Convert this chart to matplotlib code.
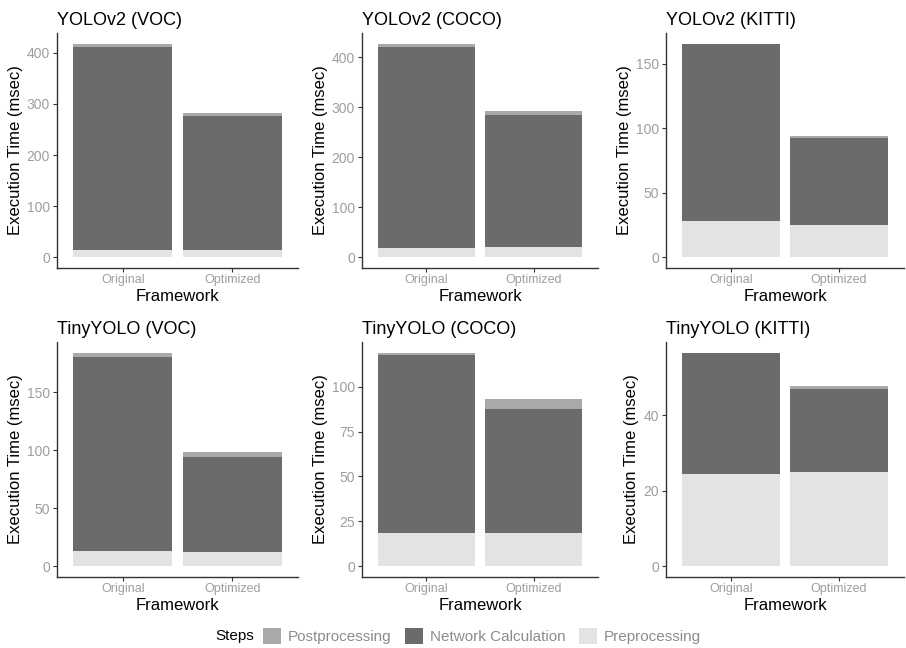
import matplotlib.pyplot as plt
from matplotlib.patches import Patch

plt.rcParams['font.family'] = ['Liberation Sans', 'DejaVu Sans']

# data
frameworks = ["Original", "Optimized"]
titles = ["YOLOv2 (VOC)", "YOLOv2 (COCO)", "YOLOv2 (KITTI)",
          "TinyYOLO (VOC)", "TinyYOLO (COCO)", "TinyYOLO (KITTI)"]
preproc = [[15, 15], [19, 21], [28.4, 25], [13.2, 12], [18.3, 18.3], [24.5, 25]]
network = [[397, 260.7], [402, 263], [136.8, 67.5], [166.9, 82.1], [99.5, 69.5], [31.9, 21.9]]
postproc = [[6, 6], [6, 8], [0.5, 1.3], [4, 4], [1.1, 5.5], [0.2, 1.0]]
yticks = [[0, 100, 200, 300, 400], [0, 100, 200, 300, 400], [0, 50, 100, 150],
          [0, 50, 100, 150], [0, 25, 50, 75, 100], [0, 20, 40]]

c_post = "#A9A9A9"
c_net = "#6B6B6B"
c_pre = "#E3E3E3"
tick_col = "#9E9E9E"

W, H = 906, 648
fig = plt.figure(figsize=(W / 100, H / 100), dpi=100)

cols = [(57, 298), (362, 598), (666, 904)]
rows = [(33, 268), (342, 577)]

for i in range(6):
    r, c = divmod(i, 3)
    l, rr = cols[c]
    t, b = rows[r]
    ax = fig.add_axes([l / W, 1 - b / H, (rr - l) / W, (b - t) / H])
    x = [1, 2]
    pre = preproc[i]
    net = network[i]
    post = postproc[i]
    ax.bar(x, pre, width=0.9, color=c_pre)
    ax.bar(x, net, width=0.9, bottom=pre, color=c_net)
    ax.bar(x, post, width=0.9, bottom=[p + n for p, n in zip(pre, net)], color=c_post)
    top = max(p + n + q for p, n, q in zip(pre, net, post))
    ax.set_ylim(-0.05 * top, top * 1.05)
    ax.set_xlim(0.4, 2.6)
    ax.set_xticks(x)
    ax.set_xticklabels(frameworks, fontsize=9, color=tick_col)
    ax.set_yticks(yticks[i])
    ax.tick_params(axis='y', labelsize=10, labelcolor=tick_col, length=3, color="#333333", pad=2)
    ax.tick_params(axis='x', length=3, color="#333333", pad=1.5)
    for s in ["top", "right"]:
        ax.spines[s].set_visible(False)
    for s in ["left", "bottom"]:
        ax.spines[s].set_color("#333333")
        ax.spines[s].set_linewidth(1.0)
    ax.set_xlabel("Framework", fontsize=12, labelpad=2)
    ax.set_ylabel("Execution Time (msec)", fontsize=12, labelpad=3)
    ax.set_title(titles[i], fontsize=13, loc='left', pad=6)

handles = [Patch(facecolor=c_post), Patch(facecolor=c_net), Patch(facecolor=c_pre)]
labels = ["Postprocessing", "Network Calculation", "Preprocessing"]
leg = fig.legend(handles, labels, ncol=3, loc='center', bbox_to_anchor=(482 / W, 1 - 636 / H),
                 frameon=False, fontsize=11, handlelength=1.2, handleheight=1.2,
                 handletextpad=0.45, columnspacing=0.85)
for txt in leg.get_texts():
    txt.set_color("#8C8C8C")
fig.text(215 / W, 1 - 636 / H, "Steps", fontsize=11, va='center', ha='left')

fig.savefig("out.png", dpi=100)
